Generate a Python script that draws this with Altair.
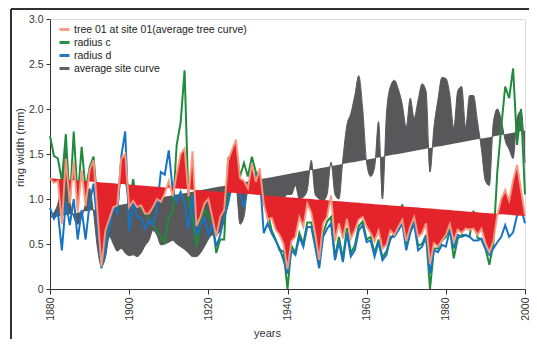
import altair as alt
import pandas as pd

years = list(range(1880, 2001))

tree01 = [1.23, 1.18, 1.20, 0.72, 1.45, 0.95, 1.42, 0.85, 1.32, 0.92,
          1.32, 1.43, 0.85, 0.25, 0.65, 0.78, 0.91, 0.93, 1.45, 1.50,
          0.91, 0.98, 0.91, 0.93, 0.84, 0.84, 0.91, 1.00, 0.97, 1.06,
          1.20, 1.03, 1.28, 1.50, 1.56, 1.03, 1.53, 0.70, 0.80, 0.95,
          1.00, 0.80, 0.58, 0.80, 0.88, 1.43, 1.55, 1.66, 1.23, 1.20,
          1.12, 1.39, 1.19, 1.34, 0.95, 0.77, 0.79, 0.66, 0.60, 0.50,
          0.22, 0.53, 0.58, 0.80, 0.69, 0.95, 0.85, 0.62, 0.32, 0.73,
          0.80, 1.04, 0.53, 0.73, 0.56, 0.78, 0.56, 0.65, 0.77, 0.80,
          0.69, 0.62, 0.53, 0.65, 0.45, 0.49, 0.65, 0.60, 0.69, 0.77,
          0.53, 0.69, 0.80, 0.58, 0.62, 0.73, 0.28, 0.51, 0.47, 0.54,
          0.60, 0.72, 0.53, 0.66, 0.62, 0.67, 0.66, 0.67, 0.60, 0.67,
          0.51, 0.41, 0.53, 0.82, 1.00, 1.10, 0.98, 1.21, 1.38, 1.10,
          0.82]

radius_c = [1.70, 1.48, 1.45, 1.20, 1.72, 0.95, 1.75, 1.00, 1.58, 1.10,
            1.35, 1.47, 0.95, 0.28, 0.50, 0.70, 0.92, 0.90, 1.35, 1.25,
            0.95, 1.22, 0.95, 0.90, 0.85, 0.78, 0.72, 0.65, 0.58, 0.52,
            0.80, 0.85, 1.60, 1.85, 2.43, 0.95, 0.80, 0.47, 0.72, 0.88,
            0.82, 0.75, 0.40, 0.55, 0.55, 1.45, 1.50, 1.55, 1.25, 1.40,
            1.25, 1.47, 1.30, 1.25, 0.95, 0.85, 0.65, 0.55, 0.43, 0.42,
            0.00, 0.48, 0.40, 0.62, 0.50, 0.74, 0.74, 0.50, 0.28, 0.62,
            0.75, 0.80, 0.35, 0.58, 0.33, 0.68, 0.40, 0.48, 0.70, 0.75,
            0.55, 0.58, 0.40, 0.55, 0.35, 0.42, 0.55, 0.62, 0.68, 0.94,
            0.48, 0.65, 0.75, 0.48, 0.50, 0.60, 0.00, 0.45, 0.45, 0.54,
            0.58, 0.67, 0.34, 0.56, 0.60, 0.60, 0.58, 0.87, 0.57, 0.55,
            0.45, 0.27, 0.50, 1.30, 1.80, 2.25, 2.12, 2.45, 1.60, 2.00,
            1.05]

radius_d = [0.90, 0.78, 0.85, 0.43, 0.97, 0.71, 1.00, 0.55, 0.88, 0.55,
            0.95, 1.17, 0.70, 0.23, 0.45, 0.68, 0.93, 0.84, 1.47, 1.75,
            0.64, 0.97, 0.80, 0.79, 0.67, 0.77, 0.71, 0.88, 1.30, 1.27,
            1.54, 1.10, 0.97, 1.08, 0.95, 0.66, 1.05, 0.60, 0.71, 0.79,
            0.60, 0.73, 0.47, 0.60, 0.80, 0.95, 1.20, 1.35, 1.05, 0.91,
            1.14, 1.21, 1.28, 1.25, 0.62, 0.73, 0.62, 0.54, 0.45, 0.32,
            0.17, 0.43, 0.38, 0.58, 0.47, 0.69, 0.69, 0.47, 0.23, 0.58,
            0.67, 0.73, 0.32, 0.52, 0.30, 0.62, 0.36, 0.43, 0.65, 0.71,
            0.52, 0.54, 0.36, 0.52, 0.32, 0.38, 0.58, 0.58, 0.65, 0.73,
            0.43, 0.62, 0.73, 0.43, 0.47, 0.58, 0.17, 0.43, 0.41, 0.49,
            0.47, 0.65, 0.45, 0.60, 0.58, 0.60, 0.58, 0.54, 0.54, 0.56,
            0.45, 0.38, 0.45, 0.52, 0.58, 0.71, 0.58, 0.63, 0.82, 0.90,
            0.73]

site_avg = [0.79, 0.85, 0.95, 1.20, 1.55, 1.00, 0.80, 0.72, 0.80, 0.95,
            1.12, 0.85, 0.45, 0.25, 0.35, 0.58, 0.50, 0.42, 0.45, 0.40,
            0.37, 0.38, 0.36, 0.40, 0.48, 0.54, 0.65, 0.60, 0.49, 0.50,
            0.52, 0.54, 0.50, 0.47, 0.44, 0.40, 0.36, 0.36, 0.40, 0.47,
            0.55, 0.60, 0.60, 0.65, 0.75, 0.95, 1.10, 1.12, 0.72, 0.80,
            1.15, 1.25, 1.28, 1.10, 0.95, 0.90, 0.88, 0.90, 0.92, 1.00,
            1.05, 1.05, 1.15, 1.00, 1.02, 1.10, 1.43, 1.05, 1.00, 0.98,
            1.05, 1.41, 1.05, 1.00, 1.45, 1.82, 1.95, 2.15, 2.37, 2.00,
            1.40, 1.25, 1.35, 1.86, 1.00, 1.95, 2.25, 2.32, 2.22, 2.05,
            1.80, 2.12, 1.90, 2.10, 2.28, 2.20, 1.30, 1.80, 2.10, 2.35,
            2.34, 2.16, 1.79, 2.20, 2.25, 1.80, 2.15, 2.15, 1.86, 1.55,
            1.20, 1.15, 1.85, 2.00, 1.88, 1.65, 1.55, 1.45, 1.90, 1.98,
            1.40]

tree_trend_ends = [1.23, 0.81]
site_trend_ends = [0.79, 1.76]

series_names = ["tree 01 at site 01(average tree curve)", "radius c",
                "radius d", "average site curve"]
series_colors = ["#f59b82", "#1f8b3b", "#1874c2", "#58585a"]
red_fill = "#e4232a"


def trend(ends):
    return [ends[0] + (ends[1] - ends[0]) * (y - years[0]) / (years[-1] - years[0]) for y in years]


wide = pd.DataFrame({
    "year": years,
    "tree": tree01,
    "tree_trend": trend(tree_trend_ends),
    "site": site_avg,
    "site_trend": trend(site_trend_ends),
})

frames = []
for name, vals in zip(series_names, [tree01, radius_c, radius_d, site_avg]):
    frames.append(pd.DataFrame({"year": years, "value": vals, "series": name}))
long = pd.concat(frames, ignore_index=True)

W, H = 475, 270
FONT = "Liberation Sans"

x_enc = alt.X(
    "year:Q",
    scale=alt.Scale(domain=[1880, 2000], nice=False, zero=False),
    axis=alt.Axis(
        title="years", values=list(range(1880, 2001, 5)),
        labelExpr="datum.value % 10 == 0 ? '' + datum.value : ''",
        labelAngle=-90, labelFontSize=10.5, labelFont=FONT, labelColor="#333",
        labelPadding=3, labelOverlap=False, labelBound=False, labelFlush=False,
        tickSize=5, tickColor="#333", domainColor="#333",
        titleFont=FONT, titleFontSize=11, titleFontWeight="normal", titleColor="#333",
        titleX=217, titleY=47, titleBaseline="alphabetic", grid=False,
    ),
)
y_scale = alt.Scale(domain=[0, 3], nice=False)
y_axis = alt.Axis(
    title="ring width (mm)", values=[0, 0.5, 1, 1.5, 2, 2.5, 3],
    labelExpr="datum.value == 0 ? '0' : format(datum.value, '.1f')",
    labelFontSize=10.5, labelFont=FONT, labelColor="#333", labelPadding=3,
    labelOverlap=False, labelFlush=False,
    tickSize=4, tickColor="#333", domainColor="#333",
    titleFont=FONT, titleFontSize=11.5, titleFontWeight="normal", titleColor="#333",
    titleX=-27, titleY=128, titleBaseline="alphabetic", titleAlign="center", grid=False,
)

color_scale = alt.Scale(domain=series_names, range=series_colors)
legend = alt.Legend(
    title=None, orient="none", legendX=8, legendY=4, symbolType="stroke",
    symbolStrokeWidth=3, symbolSize=100, labelFont=FONT, labelFontSize=10.5,
    labelColor="#222", labelOffset=3, labelLimit=0, rowPadding=0, padding=0,
)
color_enc = alt.Color("series:N", scale=color_scale, legend=legend)

base_wide = alt.Chart(wide)

site_area = base_wide.mark_area(color=series_colors[3], interpolate="monotone").encode(
    x=x_enc, y=alt.Y("site:Q", scale=y_scale, axis=y_axis), y2="site_trend:Q")

site_line = alt.Chart(long).transform_filter(
    alt.datum.series == series_names[3]).mark_line(
    strokeWidth=1, interpolate="monotone").encode(
    x="year:Q", y="value:Q", color=color_enc)

c_line = alt.Chart(long).transform_filter(
    alt.datum.series == series_names[1]).mark_line(strokeWidth=2).encode(
    x="year:Q", y="value:Q", color=color_enc)

d_line = alt.Chart(long).transform_filter(
    alt.datum.series == series_names[2]).mark_line(strokeWidth=2).encode(
    x="year:Q", y="value:Q", color=color_enc)

tree_area = base_wide.mark_area(color=red_fill).encode(
    x="year:Q", y="tree:Q", y2="tree_trend:Q")

tree_line = alt.Chart(long).transform_filter(
    alt.datum.series == series_names[0]).mark_line(strokeWidth=2, opacity=0.95).encode(
    x="year:Q", y="value:Q", color=color_enc)

frame_left = alt.Chart(wide).mark_rule(color="#333", strokeWidth=1.5).encode(
    x=alt.value(-39), y=alt.value(-10), y2=alt.value(H + 80))
frame_top = alt.Chart(wide).mark_rule(color="#333", strokeWidth=1.5).encode(
    x=alt.value(-39), x2=alt.value(W + 20), y=alt.value(-10))

chart = alt.layer(
    site_area, site_line, c_line, d_line, tree_area, tree_line, frame_left, frame_top
).properties(
    width=W, height=H,
    autosize=alt.AutoSizeParams(type="none"),
    padding={"left": 42, "top": 11, "right": 4, "bottom": 50},
).configure_view(
    stroke="#666", strokeWidth=1
).configure(background="white")

chart.save("out.html", embed_options={"renderer": "svg", "actions": False})
